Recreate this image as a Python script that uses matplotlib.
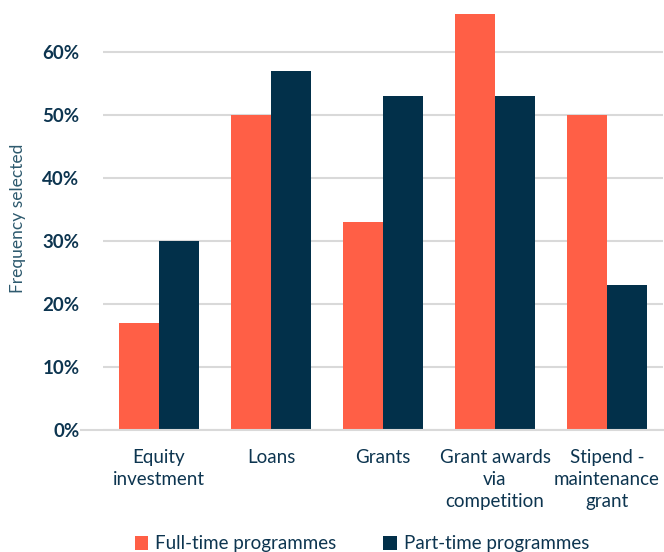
import numpy as np
import matplotlib.pyplot as plt

categories = ['Equity\ninvestment', 'Loans', 'Grants', 'Grant awards\nvia\ncompetition', 'Stipend -\nmaintenance\ngrant']
full_time = [17, 50, 33, 66, 50]
part_time = [30, 57, 53, 53, 23]

orange = '#FF5F46'
navy = '#02304A'
text_col = '#0D3550'

plt.rcParams['font.family'] = ['Lato', 'DejaVu Sans']

fig = plt.figure(figsize=(6.64, 5.52), dpi=100)
ax = fig.add_axes([103/664, 1 - 430/552, 560/664, 430/552])

x = np.arange(len(categories))
w = 0.36
ax.bar(x - w/2, full_time, w, color=orange, label='Full-time programmes', zorder=3)
ax.bar(x + w/2, part_time, w, color=navy, label='Part-time programmes', zorder=3)

ax.set_xlim(-0.5, 4.5)
ax.set_ylim(0, 68.25)
ax.set_yticks(np.arange(0, 70, 10))
ax.set_yticklabels([f'{v}%' for v in range(0, 70, 10)], fontsize=13.5, color=text_col, fontweight='bold')
ax.yaxis.grid(True, color='#D9D9D9', linewidth=1.5, zorder=0)
ax.tick_params(axis='y', length=0, pad=17)
ax.set_xticks(x)
ax.set_xticklabels(categories, fontsize=13.5, color=text_col, linespacing=1.35)
ax.tick_params(axis='x', length=0, pad=14)
for s in ['top', 'right', 'left', 'bottom']:
    ax.spines[s].set_visible(False)
ax.axhline(0, xmin=-0.04, xmax=1, color='#D9D9D9', linewidth=1.5, clip_on=False, zorder=4)

fig.text(18/664, 1 - 218/552, 'Frequency selected', rotation=90, ha='center', va='center',
         fontsize=12.5, color='#2E5A6E')

fig.legend(loc='center', bbox_to_anchor=(362/664, 1 - 544/552), ncol=2, frameon=False,
           fontsize=13.5, handlelength=0.7, handleheight=0.7, columnspacing=2.5,
           labelcolor=text_col, handletextpad=0.4)

fig.savefig('out.png', dpi=100)
